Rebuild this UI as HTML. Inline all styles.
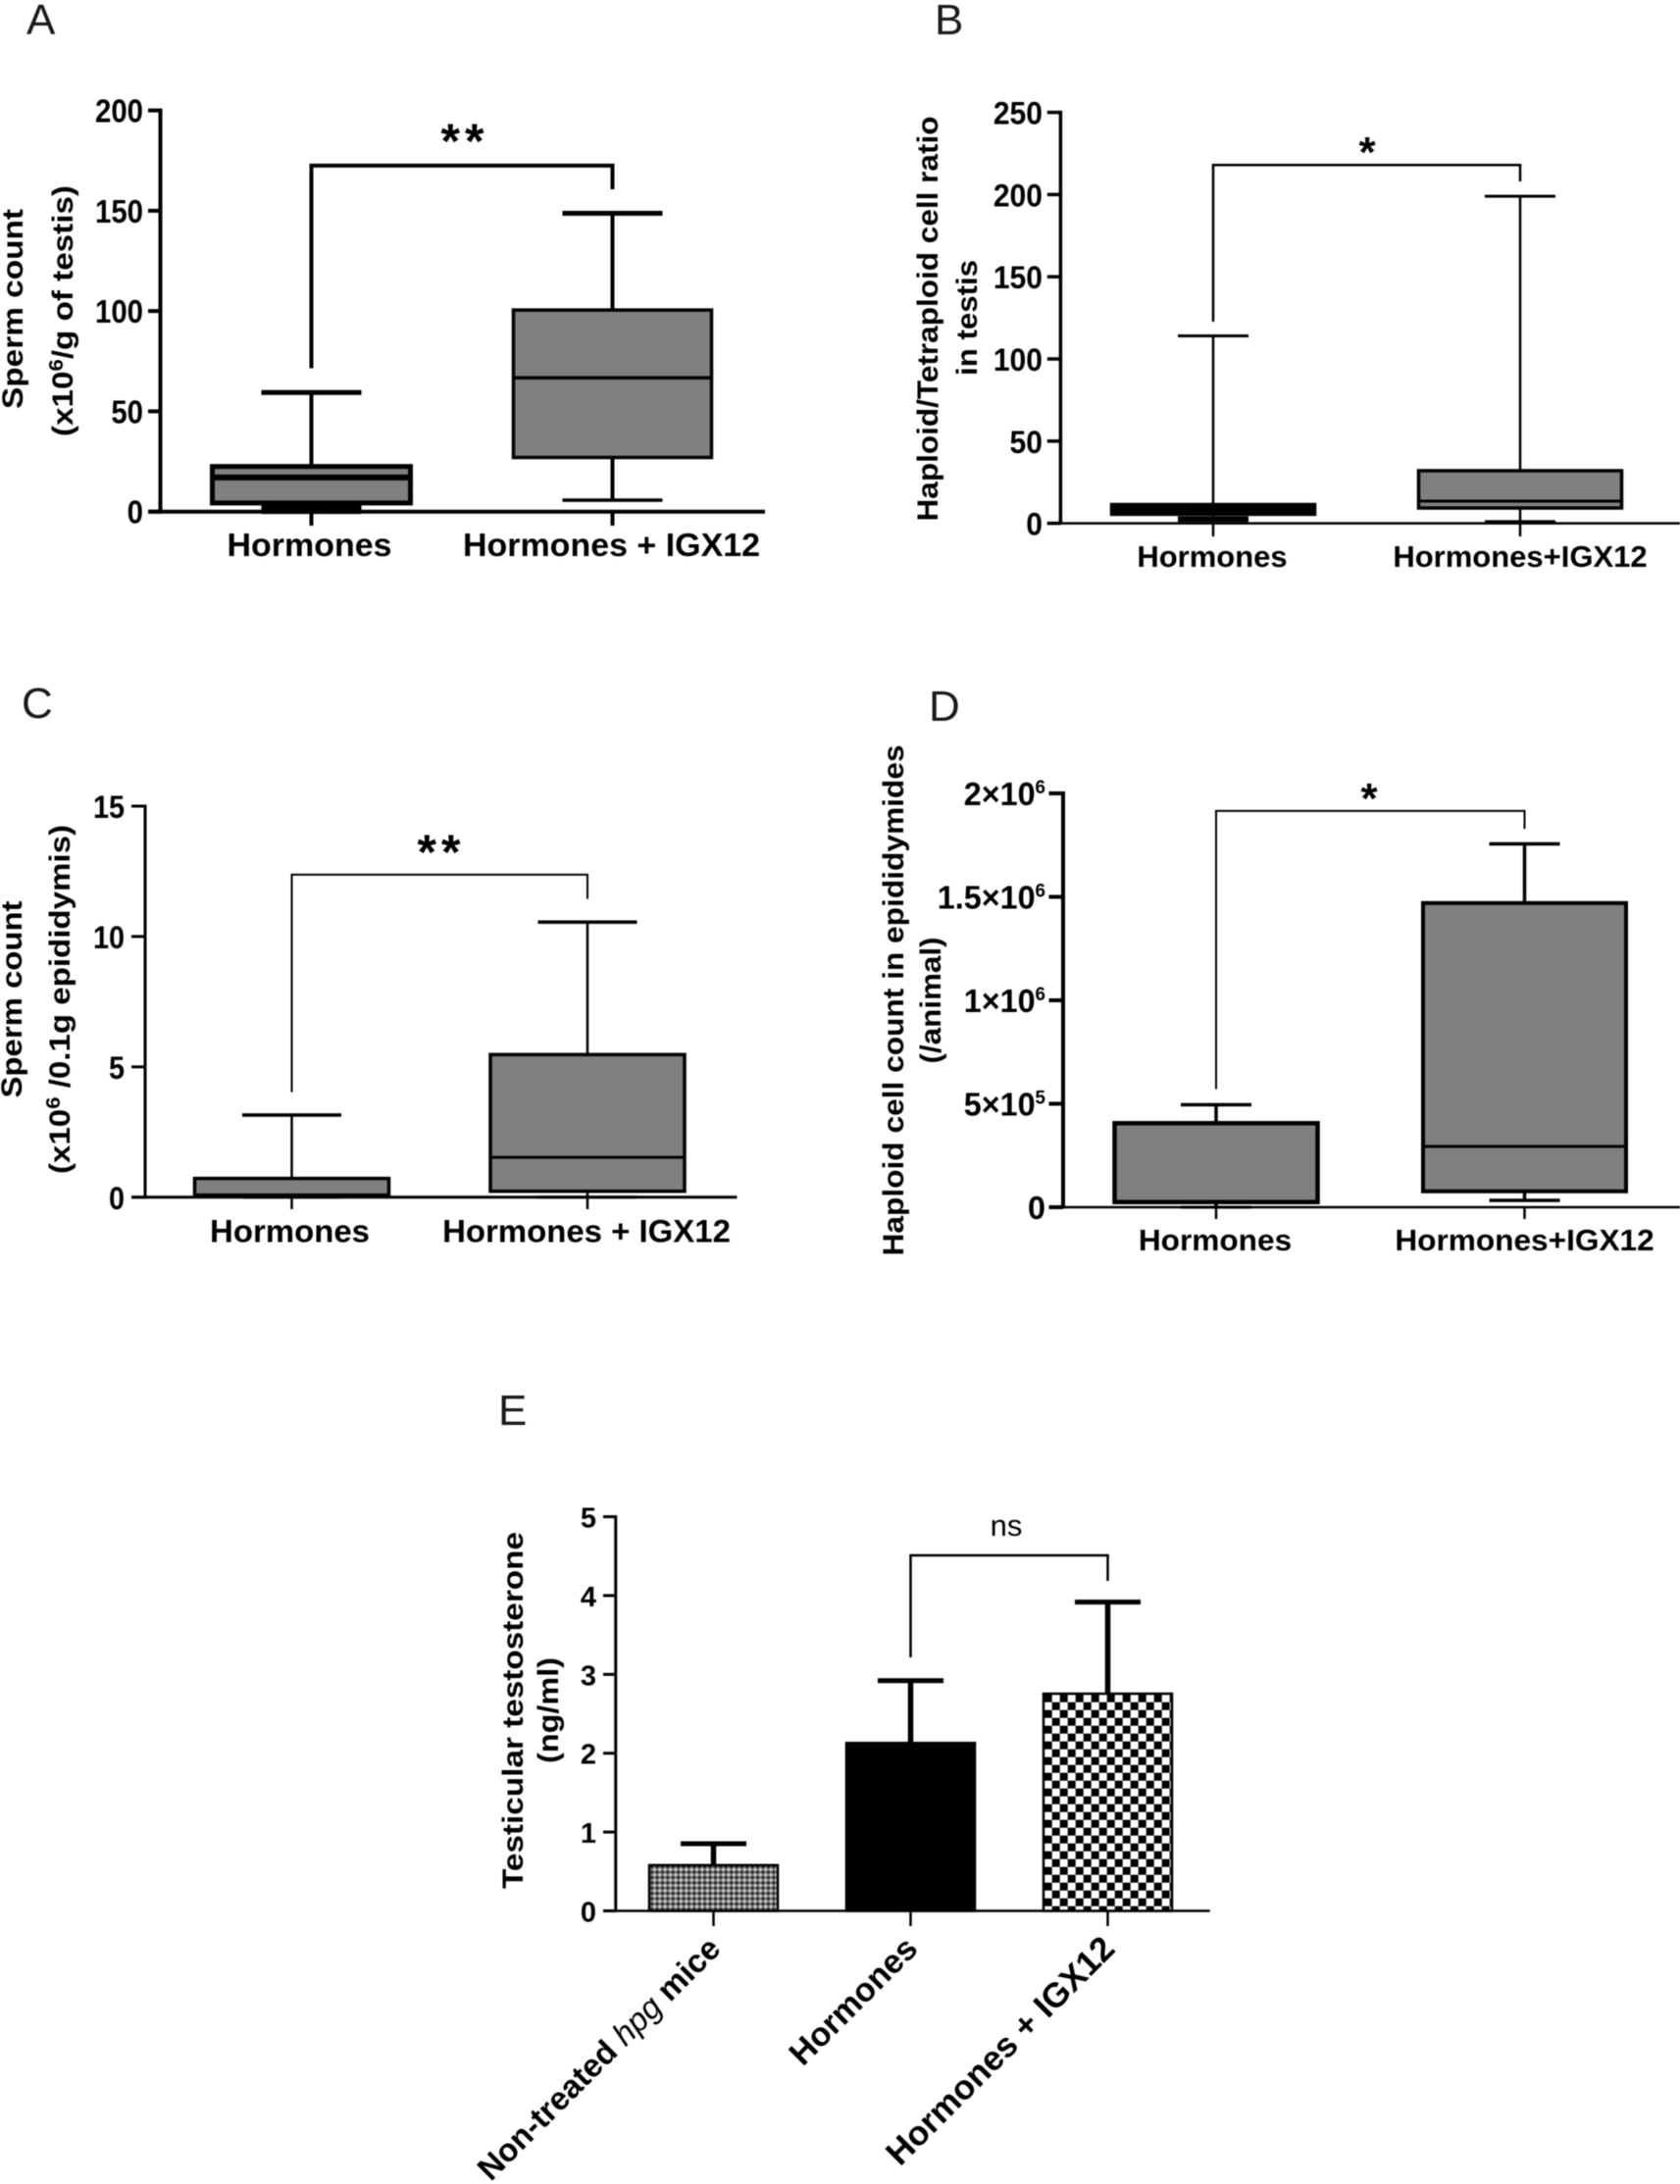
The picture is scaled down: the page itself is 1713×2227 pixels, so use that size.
<!DOCTYPE html>
<html lang="en">
<head>
<meta charset="utf-8">
<title>Hormones and IGX12 box plots</title>
<style>
html,body{margin:0;padding:0;background:#fff;}
#figure{display:block;width:1713px;height:2227px;filter:blur(0.65px);font-family:"Liberation Sans",sans-serif;}
.title{font-weight:bold;font-size:30px;text-anchor:middle;fill:#000;}
.letter{font-size:44px;fill:#1a1a1a;}
</style>
</head>
<body>
<svg id="figure" xmlns="http://www.w3.org/2000/svg" width="1713" height="2227" viewBox="0 0 1713 2227">
<defs>
<pattern id="fine-dots" patternUnits="userSpaceOnUse" x="666" y="1905" width="5.4" height="5.4">
<rect width="5.4" height="5.4" fill="#777"/>
<circle cx="1.35" cy="1.35" r="1.15" fill="#fff"/>
<circle cx="4.05" cy="4.05" r="1.15" fill="#000"/>
</pattern>
<pattern id="checker" patternUnits="userSpaceOnUse" x="1072.7" y="1727.7" width="16" height="16">
<rect width="16" height="16" fill="#000"/>
<rect width="8" height="8" fill="#fff"/>
<rect x="8" y="8" width="8" height="8" fill="#fff"/>
</pattern>
</defs>
<rect width="1713" height="2227" fill="#fff"/>

<text class="letter" x="27" y="35">A</text>
<text class="letter" x="953" y="35">B</text>
<text class="letter" x="22" y="732">C</text>
<text class="letter" x="947" y="735">D</text>
<text class="letter" x="508" y="1453">E</text>

<text class="title" transform="translate(23,315) rotate(-90)" textLength="204" lengthAdjust="spacingAndGlyphs">Sperm count</text>
<text class="title" transform="translate(74,317) rotate(-90)" textLength="256" lengthAdjust="spacingAndGlyphs">(x10<tspan dy="-10" font-size="20">6</tspan><tspan dy="10">/g of testis)</tspan></text>

<text class="title" transform="translate(956,325) rotate(-90)" textLength="413" lengthAdjust="spacingAndGlyphs">Haploid/Tetraploid cell ratio</text>
<text class="title" transform="translate(996,324) rotate(-90)" textLength="118" lengthAdjust="spacingAndGlyphs">in testis</text>

<text class="title" transform="translate(22,1019) rotate(-90)" textLength="201" lengthAdjust="spacingAndGlyphs">Sperm count</text>
<text class="title" transform="translate(71,1019) rotate(-90)" textLength="356" lengthAdjust="spacingAndGlyphs">(x10<tspan dy="-10" font-size="20">6</tspan><tspan dy="10"> /0.1g epididymis)</tspan></text>

<text class="title" transform="translate(921,1020) rotate(-90)" textLength="521" lengthAdjust="spacingAndGlyphs">Haploid cell count in epididymides</text>
<text class="title" transform="translate(959,1020) rotate(-90)" textLength="129" lengthAdjust="spacingAndGlyphs">(/animal)</text>

<text class="title" transform="translate(533,1744) rotate(-90)" textLength="364" lengthAdjust="spacingAndGlyphs">Testicular testosterone</text>
<text class="title" transform="translate(569,1744) rotate(-90)" textLength="108" lengthAdjust="spacingAndGlyphs">(ng/ml)</text>

<g id="marks"></g>
</svg>

<script>
// Panel A
const panelACategories = ["Hormones", "Hormones + IGX12"];
const panelATicks = [0, 50, 100, 150, 200];
const panelATickLabels = ["0", "50", "100", "150", "200"];
const panelAWhiskerLow = [1.5, 5.7];
const panelAQ1 = [4.3, 27];
const panelAMedian = [17, 66.7];
const panelAQ3 = [22.5, 100.5];
const panelAWhiskerHigh = [59.4, 148.7];
const panelABracket = [172.5, 71.5, 160.7];

// Panel B
const panelBCategories = ["Hormones", "Hormones+IGX12"];
const panelBTicks = [0, 50, 100, 150, 200, 250];
const panelBTickLabels = ["0", "50", "100", "150", "200", "250"];
const panelBWhiskerLow = [2.5, 1];
const panelBQ1 = [5.5, 9.3];
const panelBMedian = [8.5, 13.5];
const panelBQ3 = [11.4, 32];
const panelBWhiskerHigh = [114, 199];
const panelBBracket = [218, 122.7, 208];

// Panel C
const panelCCategories = ["Hormones", "Hormones + IGX12"];
const panelCTicks = [0, 5, 10, 15];
const panelCTickLabels = ["0", "5", "10", "15"];
const panelCWhiskerLow = [0, 0];
const panelCQ1 = [0.08, 0.23];
const panelCMedian = [0.08, 1.53];
const panelCQ3 = [0.72, 5.47];
const panelCWhiskerHigh = [3.15, 10.55];
const panelCBracket = [12.37, 4.03, 11.44];

// Panel D
const panelDCategories = ["Hormones", "Hormones+IGX12"];
const panelDTicks = [0, 500000, 1000000, 1500000, 2000000];
const panelDTickLabels = ["0", "5×10^5", "1×10^6", "1.5×10^6", "2×10^6"];
const panelDWhiskerLow = [0, 33000];
const panelDQ1 = [25000, 77000];
const panelDMedian = [25000, 294000];
const panelDQ3 = [406000, 1470000];
const panelDWhiskerHigh = [495000, 1756000];
const panelDBracket = [1915000, 571000, 1829000];

// Panel E
const panelECategories = ["Non-treated|hpg| mice", "Hormones", "Hormones + IGX12"];
const panelETicks = [0, 1, 2, 3, 4, 5];
const panelETickLabels = ["0", "1", "2", "3", "4", "5"];
const panelEMeans = [0.58, 2.13, 2.755];
const panelEErrors = [0.272, 0.79, 1.162];
const panelEBracket = [4.51, 3.216, 4.186];

const SVG_NS = "http://www.w3.org/2000/svg";
const marks = document.getElementById("marks");

function makeLine(x1, y1, x2, y2, width, name) {
  const el = document.createElementNS(SVG_NS, "line");
  el.setAttribute("x1", x1);
  el.setAttribute("y1", y1);
  el.setAttribute("x2", x2);
  el.setAttribute("y2", y2);
  el.setAttribute("stroke", "#000");
  el.setAttribute("stroke-width", width);
  
  
  marks.appendChild(el);
  return el;
}

function makeRect(x, y, w, h, fill, strokeWidth, name) {
  const el = document.createElementNS(SVG_NS, "rect");
  el.setAttribute("x", x);
  el.setAttribute("y", y);
  el.setAttribute("width", w);
  el.setAttribute("height", Math.max(h, 0));
  el.setAttribute("fill", fill);
  el.setAttribute("stroke", "#000");
  el.setAttribute("stroke-width", strokeWidth);
  
  
  marks.appendChild(el);
  return el;
}

function makeText(str, x, y, size, sx, anchor, weight, name) {
  const el = document.createElementNS(SVG_NS, "text");
  el.setAttribute("transform", "translate(" + x + "," + y + ") scale(" + sx + ",1)");
  el.setAttribute("font-size", size);
  el.setAttribute("font-weight", weight);
  el.setAttribute("text-anchor", anchor);
  el.setAttribute("fill", "#000");
  const parts = str.split("^");
  el.textContent = parts[0];
  if (parts[1]) {
    const sup = document.createElementNS(SVG_NS, "tspan");
    sup.setAttribute("dy", -size * 0.36);
    sup.setAttribute("font-size", size * 0.58);
    sup.textContent = parts[1];
    el.appendChild(sup);
  }
  
  
  marks.appendChild(el);
  return el;
}

function makeYScale(yZero, yTop, maxValue) {
  return function (v) { return yZero - v * (yZero - yTop) / maxValue; };
}

function makeXScale(xFirst, xStep) {
  return function (i) { return xFirst + i * xStep; };
}

function drawAxes(prefix, f, y, x, ticks, tickLabels) {
  makeLine(f.axisX, f.yTop - f.axisW / 2, f.axisX, f.yZero + f.axisH / 2, f.axisW, prefix + "-y-axis");
  makeLine(f.tickLeft, f.yZero, f.axisRight, f.yZero, f.axisH, prefix + "-x-axis");
  ticks.forEach(function (t, i) {
    makeLine(f.tickLeft, y(t), f.axisX, y(t), f.axisW, prefix + "-y-tick-" + i);
    makeText(tickLabels[i], f.labelRight, y(t) + f.tickBase, f.tickSize, f.tickSx, "end", "bold", prefix + "-y-tick-label-" + i);
  });
}

function drawBracket(prefix, f, y, xLeft, xRight, values) {
  const top = y(values[0]);
  makeLine(xLeft, top, xLeft, y(values[1]), f.bracketW, prefix + "-bracket-left");
  makeLine(xRight, top, xRight, y(values[2]), f.bracketW, prefix + "-bracket-right");
  makeLine(xLeft - f.bracketW / 2, top, xRight + f.bracketW / 2, top, f.bracketW, prefix + "-bracket-top");
}

function drawBoxPanel(prefix, f, cats, ticks, tickLabels, lo, q1, med, q3, hi, bracket, sigMark) {
  const y = makeYScale(f.yZero, f.yTop, ticks[ticks.length - 1]);
  const x = makeXScale(f.xFirst, f.xStep);
  drawAxes(prefix, f, y, x, ticks, tickLabels);
  cats.forEach(function (cat, i) {
    const cx = x(i);
    const tag = prefix + "-box-" + i;
    makeLine(cx, f.yZero, cx, f.tickBottom, f.catTickW, prefix + "-x-tick-" + i);
    makeLine(cx, y(hi[i]), cx, y(q3[i]), f.whiskerW, tag + "-upper-whisker");
    makeLine(cx - f.capHalf, y(hi[i]), cx + f.capHalf, y(hi[i]), f.capW, tag + "-upper-cap");
    makeLine(cx, y(q1[i]), cx, y(lo[i]), f.whiskerW, tag + "-lower-whisker");
    makeLine(cx - f.capHalf, y(lo[i]), cx + f.capHalf, y(lo[i]), f.lowCapW[i], tag + "-lower-cap");
    makeRect(cx - f.boxHalf, y(q3[i]), f.boxHalf * 2, y(q1[i]) - y(q3[i]), "#808080", f.boxW[i], tag + "-iqr");
    makeLine(cx - f.boxHalf, y(med[i]), cx + f.boxHalf, y(med[i]), f.medianW[i], tag + "-median");
    makeText(cat, cx + f.catShift[i], f.catBase, f.catSize, f.catSx, "middle", "bold", prefix + "-x-label-" + i);
  });
  drawBracket(prefix, f, y, x(0), x(1), bracket);
  const star = makeText(sigMark, f.starX, f.starBase, f.starSize, 1, "middle", "bold", prefix + "-significance");
  star.setAttribute("letter-spacing", f.starGap);
}

drawBoxPanel("panel-a", {
  axisX: 163.5, yTop: 112.6, yZero: 521.7, tickLeft: 151, axisRight: 780, axisW: 4, axisH: 4,
  xFirst: 317.5, xStep: 307, tickBottom: 536, catTickW: 4, whiskerW: 4, capHalf: 51, capW: 5,
  lowCapW: [11, 3.5], boxHalf: 101, boxW: [5, 3.5], medianW: [6, 3.5], bracketW: 4,
  labelRight: 146, tickBase: 12, tickSize: 33, tickSx: 0.89,
  catBase: 567, catSize: 33, catSx: 1.03, catShift: [-2, -1],
  starX: 474, starBase: 161, starSize: 50, starGap: 5
}, panelACategories, panelATicks, panelATickLabels, panelAWhiskerLow, panelAQ1, panelAMedian, panelAQ3, panelAWhiskerHigh, panelABracket, "**");

drawBoxPanel("panel-b", {
  axisX: 1081.4, yTop: 114.6, yZero: 533.6, tickLeft: 1067.8, axisRight: 1713, axisW: 3.5, axisH: 2.5,
  xFirst: 1237, xStep: 313, tickBottom: 547, catTickW: 2.5, whiskerW: 2.5, capHalf: 36, capW: 3,
  lowCapW: [6, 3], boxHalf: 103.5, boxW: [3.5, 3.5], medianW: [8, 3], bracketW: 2.5,
  labelRight: 1063, tickBase: 12, tickSize: 32, tickSx: 0.94,
  catBase: 578, catSize: 31, catSx: 1, catShift: [-1, 0],
  starX: 1394, starBase: 170, starSize: 44, starGap: 0
}, panelBCategories, panelBTicks, panelBTickLabels, panelBWhiskerLow, panelBQ1, panelBMedian, panelBQ3, panelBWhiskerHigh, panelBBracket, "*");

drawBoxPanel("panel-c", {
  axisX: 148, yTop: 822, yZero: 1220.8, tickLeft: 134, axisRight: 751.5, axisW: 3, axisH: 3,
  xFirst: 297.5, xStep: 301.5, tickBottom: 1233, catTickW: 2.5, whiskerW: 2.5, capHalf: 50.5, capW: 3.5,
  lowCapW: [3, 3], boxHalf: 99, boxW: [3.5, 3.5], medianW: [3, 3], bracketW: 2,
  labelRight: 127, tickBase: 12, tickSize: 32, tickSx: 0.9,
  catBase: 1266.5, catSize: 32, catSx: 1.03, catShift: [-2, -1],
  starX: 450, starBase: 886, starSize: 50, starGap: 5
}, panelCCategories, panelCTicks, panelCTickLabels, panelCWhiskerLow, panelCQ1, panelCMedian, panelCQ3, panelCWhiskerHigh, panelCBracket, "**");

drawBoxPanel("panel-d", {
  axisX: 1084, yTop: 809, yZero: 1231, tickLeft: 1069.5, axisRight: 1713, axisW: 4, axisH: 2.5,
  xFirst: 1240, xStep: 314.5, tickBottom: 1243, catTickW: 2.5, whiskerW: 3.5, capHalf: 36, capW: 3.5,
  lowCapW: [3, 3.5], boxHalf: 103.5, boxW: [4.5, 4], medianW: [4.5, 3], bracketW: 2,
  labelRight: 1066, tickBase: 12, tickSize: 33, tickSx: 0.98,
  catBase: 1275, catSize: 31, catSx: 1.02, catShift: [-1, 0],
  starX: 1396, starBase: 829, starSize: 44, starGap: 0
}, panelDCategories, panelDTicks, panelDTickLabels, panelDWhiskerLow, panelDQ1, panelDMedian, panelDQ3, panelDWhiskerHigh, panelDBracket, "*");

(function drawBarPanel() {
  const prefix = "panel-e";
  const f = {
    axisX: 627.8, yTop: 1546.6, yZero: 1948.5, tickLeft: 615, axisRight: 1233.7, axisW: 3, axisH: 2.5,
    labelRight: 608, tickBase: 11, tickSize: 29, tickSx: 1, bracketW: 2.5
  };
  const y = makeYScale(f.yZero, f.yTop, panelETicks[panelETicks.length - 1]);
  const x = makeXScale(727.5, 201);
  drawAxes(prefix, f, y, x, panelETicks, panelETickLabels);
  const fills = ["url(#fine-dots)", "#000", "url(#checker)"];
  panelEMeans.forEach(function (mean, i) {
    const cx = x(i);
    const top = y(mean);
    const errTop = y(mean + panelEErrors[i]);
    makeLine(cx, f.yZero, cx, 1964, 2.5, prefix + "-x-tick-" + i);
    makeLine(cx, errTop, cx, top, 5.5, prefix + "-bar-" + i + "-error-stem");
    makeLine(cx - 33.5, errTop, cx + 33.5, errTop, 5, prefix + "-bar-" + i + "-error-cap");
    makeRect(cx - 65.5, top, 131, f.yZero - top, fills[i], 2.5, prefix + "-bar-" + i);
  });
  drawBracket(prefix, f, y, x(1), x(2), panelEBracket);
  makeText("ns", 1026, 1566, 31, 1, "middle", "normal", prefix + "-significance");
  const labelSizes = [33, 34, 35];
  panelECategories.forEach(function (cat, i) {
    const el = document.createElementNS(SVG_NS, "text");
    el.setAttribute("transform", "translate(" + (x(i) + 9) + ",1989) rotate(-45)");
    el.setAttribute("font-size", labelSizes[i]);
    el.setAttribute("font-weight", "bold");
    el.setAttribute("text-anchor", "end");
    const parts = cat.split("|");
    parts.forEach(function (part, k) {
      const span = document.createElementNS(SVG_NS, "tspan");
      span.textContent = k === 0 && parts.length > 1 ? part + " " : part;
      if (k === 1) {
        span.setAttribute("font-style", "italic");
        span.setAttribute("font-weight", "normal");
      }
      el.appendChild(span);
    });
    
    
    marks.appendChild(el);
  });
})();
</script>
</body>
</html>
